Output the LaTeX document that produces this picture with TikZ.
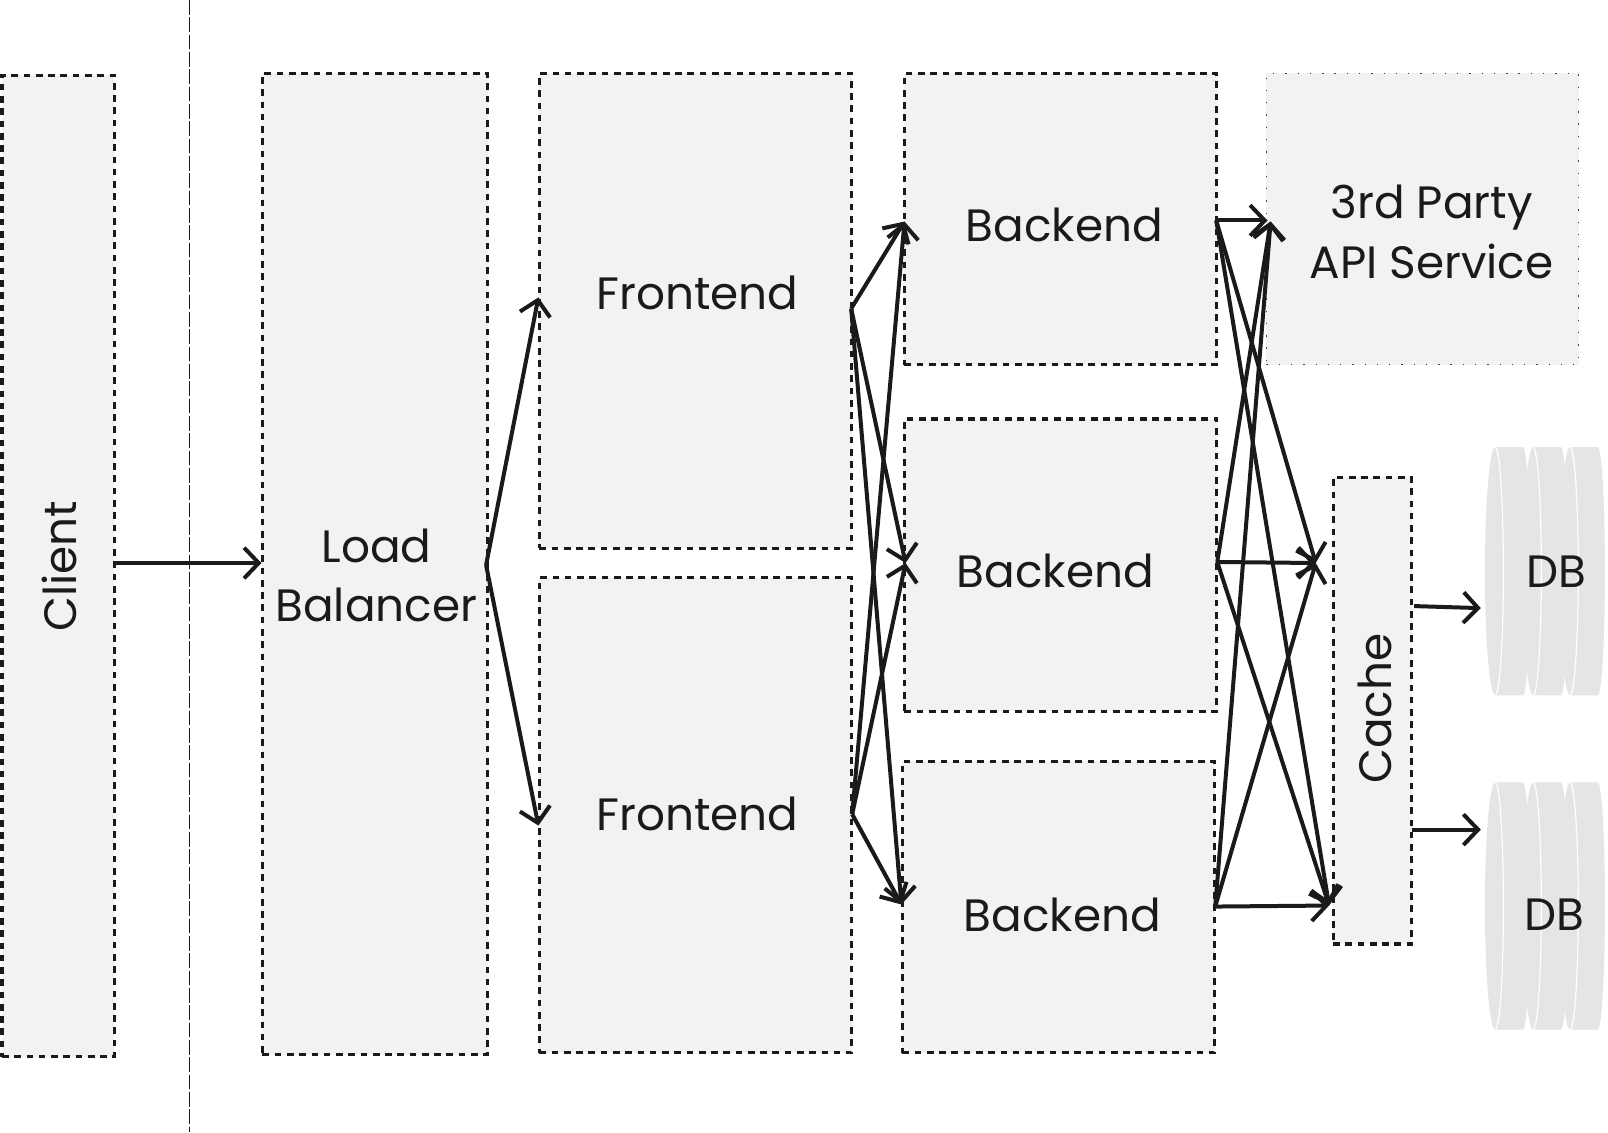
\documentclass[tikz,border=0pt]{standalone}
\usepackage{fontspec}
\setmainfont{Poppins}
\usetikzlibrary{arrows.meta}
\definecolor{ink}{HTML}{1A1A1A}
\definecolor{boxfill}{HTML}{F2F2F2}
\definecolor{diskfill}{HTML}{E5E5E5}
\newcommand{\BX}[6]{\node[#2,minimum width={((#5)-(#3)-0.5)*0.7691pt},minimum height={((#6)-(#4))*0.7691pt}] (#1) at ({((#3)+(#5))/2-0.3},{-((#4)+(#6))/2-0.5}) {};}
\newcommand{\DISK}[3]{% x-left-centre, top, bottom
  \fill[diskfill] (#1,-#2) -- ({#1+27},-#2) arc[start angle=90,end angle=-90,x radius=7,y radius={(#3-#2)/2}] -- (#1,-#3) arc[start angle=270,end angle=90,x radius=10,y radius={(#3-#2)/2}] -- cycle;
  \draw[white,line width=0.9pt] (#1,-#2) arc[start angle=90,end angle=-90,x radius=8,y radius={(#3-#2)/2}];
}
\newcommand{\STACK}[2]{\DISK{1458}{#1}{#2}\DISK{1495}{#1}{#2}\DISK{1531}{#1}{#2}}
\tikzset{
  dbox/.style={draw=ink,fill=boxfill,line width=2.4pt,dash pattern=on 5pt off 4.2pt,inner sep=0pt,outer sep=0pt},
  ebox/.style={draw=black!75,fill=boxfill,line width=0.7pt,dash pattern=on 1pt off 8.2pt,inner sep=0pt,outer sep=0pt},
  lab/.style={text=ink,font=\fontsize{34}{44.5}\selectfont,align=center,inner sep=0pt},
  conn/.style={draw=ink,line width=3pt,-{Straight Barb[length=11pt,width=23pt,line width=3pt]}}
}
\begin{document}
\begin{tikzpicture}[x=0.7691pt,y=0.7691pt]
\useasboundingbox (0,0) rectangle (1568,-1104);
\draw[ink,line width=0.9pt,dash pattern=on 11pt off 2pt] (184.5,0) coordinate (divtop) -- (184.5,-1104) coordinate (divbot);
\BX{client}{dbox}{2}{73}{112}{1030}
\BX{lb}{dbox}{256}{71}{476}{1028}
\BX{feA}{dbox}{526}{71}{831}{534}
\BX{feB}{dbox}{526}{563}{831}{1026}
\BX{beA}{dbox}{882}{71}{1187}{355}
\BX{beB}{dbox}{882}{408}{1187}{693}
\BX{beC}{dbox}{880}{742}{1185}{1026}
\BX{api}{ebox}{1235}{71}{1540}{355}
\BX{cache}{dbox}{1300}{465}{1377}{920}
\STACK{436}{678}
\STACK{763}{1004}
\node[lab,rotate=90] (tClient) at (58,-552) {Client};
\node[lab] (tLb) at (367,-561) {Load\\Balancer};
\node[lab] (tFeA) at (680,-286) {Frontend};
\node[lab] (tFeB) at (680,-794) {Frontend};
\node[lab] (tBeA) at (1038,-219) {Backend};
\node[lab] (tBeB) at (1029,-557) {Backend};
\node[lab] (tBeC) at (1036,-892) {Backend};
\node[lab] (tApi) at (1396,-226) {3rd Party\\API Service};
\node[lab,rotate=90] (tCache) at (1341,-691) {Cache};
\node[lab] (tDbA) at (1518,-557) {DB};
\node[lab] (tDbB) at (1516,-892) {DB};
% ports
\coordinate (clientOut) at (113,-549);
\coordinate (lbIn) at (255,-549);
\coordinate (lbOut) at (474,-551);
\coordinate (feAin) at (525,-290);
\coordinate (feBin) at (525,-805);
\coordinate (feAout) at (830,-301);
\coordinate (feBout) at (831,-794);
\coordinate (beAin) at (882,-216);
\coordinate (beBin) at (883,-549);
\coordinate (beCin) at (879,-882);
\coordinate (beAout) at (1186,-215);
\coordinate (beBout) at (1187,-548);
\coordinate (beCout) at (1185,-884);
\coordinate (apiIn) at (1236,-215);
\coordinate (apiInB) at (1239,-216);
\coordinate (cacheInA) at (1283,-549);
\coordinate (cacheInB) at (1296,-883);
\coordinate (cacheOutA) at (1379,-591);
\coordinate (cacheOutB) at (1377,-809);
\coordinate (dbAin) at (1444,-593);
\coordinate (dbBin) at (1444,-809);
% connectors
\draw[conn] (clientOut) -- (lbIn);
\draw[conn] (lbOut) -- (feAin);
\draw[conn] (lbOut) -- (feBin);
\foreach \a in {feAout,feBout}{\foreach \b in {beAin,beBin,beCin}{\draw[conn] (\a) -- (\b);}}
\draw[conn] (beAout) -- (apiIn);
\draw[conn] (beBout) -- (apiInB);
\draw[conn] (beCout) -- (apiInB);
\foreach \a in {beAout,beBout,beCout}{\draw[conn] (\a) -- (cacheInA);\draw[conn] (\a) -- (cacheInB);}
\draw[conn] (cacheOutA) -- (dbAin);
\draw[conn] (cacheOutB) -- (dbBin);
\end{tikzpicture}
\end{document}
